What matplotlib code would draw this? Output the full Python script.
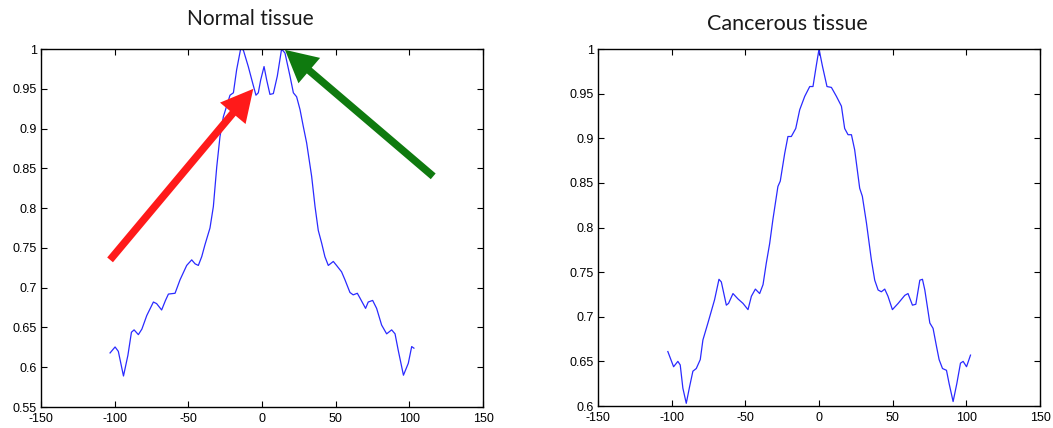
import matplotlib.pyplot as plt

# normal tissue profile
normal_x = [-103.1, -99.7, -97.5, -94.0, -91.0, -88.6, -86.8, -83.9, -81.5, -78.2, -73.7, -71.5,
            -68.1, -65.5, -63.5, -59.0, -55.6, -51.1, -47.7, -45.4, -43.2, -40.9, -38.7, -35.3,
            -33.0, -30.7, -28.5, -26.2, -21.7, -19.4, -17.2, -14.5, -12.7, -9.3, -6.3, -4.1,
            -2.5, -0.9, 1.4, 3.2, 5.4, 7.7, 10.4, 13.3, 15.6, 19.0, 21.3, 23.5, 25.8, 28.0,
            30.3, 33.7, 36.0, 38.2, 40.5, 42.7, 45.0, 48.4, 50.6, 54.0, 56.3, 59.7, 61.9, 64.7,
            66.5, 70.3, 72.1, 75.1, 77.8, 81.2, 84.6, 88.0, 90.3, 92.5, 96.0, 99.3, 101.6, 103.1]
normal_y = [0.618, 0.6255, 0.620, 0.589, 0.615, 0.644, 0.647, 0.641, 0.648, 0.665, 0.682, 0.680,
            0.672, 0.684, 0.692, 0.693, 0.710, 0.728, 0.735, 0.730, 0.728, 0.739, 0.754, 0.775,
            0.802, 0.852, 0.890, 0.915, 0.942, 0.945, 0.974, 1.000, 0.999, 0.978, 0.957, 0.942,
            0.945, 0.961, 0.978, 0.961, 0.943, 0.944, 0.966, 1.000, 0.995, 0.966, 0.945, 0.940,
            0.924, 0.903, 0.882, 0.840, 0.802, 0.772, 0.756, 0.739, 0.728, 0.733, 0.728, 0.720,
            0.710, 0.694, 0.691, 0.693, 0.687, 0.674, 0.682, 0.684, 0.674, 0.653, 0.642, 0.647,
            0.642, 0.621, 0.590, 0.605, 0.626, 0.624]

# cancerous tissue profile
cancer_x = [-102.6, -98.7, -95.8, -94.2, -92.4, -90.1, -87.8, -85.6, -83.3, -80.6, -78.8, -75.4,
            -70.9, -67.9, -66.3, -62.9, -61.4, -58.4, -55.0, -51.6, -48.2, -45.9, -43.2, -40.3,
            -38.0, -35.8, -33.5, -31.3, -27.9, -26.3, -23.3, -21.1, -18.8, -15.8, -13.1, -9.7,
            -6.3, -4.1, -1.8, 0.0, 2.3, 5.4, 8.4, 11.8, 15.2, 17.4, 19.7, 22.0, 24.2, 27.6, 29.4,
            32.2, 35.5, 37.8, 40.1, 42.3, 44.6, 46.8, 49.8, 53.7, 58.2, 60.4, 63.4, 65.7, 68.4,
            70.2, 71.8, 75.2, 77.4, 79.7, 81.5, 83.8, 86.5, 88.3, 91.0, 93.5, 96.0, 97.8, 100.1, 102.8]
cancer_y = [0.661, 0.644, 0.650, 0.646, 0.620, 0.603, 0.622, 0.639, 0.642, 0.652, 0.674, 0.693,
            0.719, 0.742, 0.739, 0.713, 0.715, 0.726, 0.720, 0.715, 0.708, 0.723, 0.731, 0.726,
            0.736, 0.760, 0.782, 0.809, 0.846, 0.852, 0.883, 0.902, 0.902, 0.911, 0.932, 0.947,
            0.958, 0.958, 0.982, 1.000, 0.981, 0.958, 0.957, 0.947, 0.936, 0.911, 0.904, 0.904,
            0.887, 0.844, 0.835, 0.805, 0.764, 0.741, 0.730, 0.728, 0.731, 0.723, 0.708, 0.715,
            0.724, 0.726, 0.713, 0.714, 0.741, 0.742, 0.730, 0.693, 0.687, 0.667, 0.652, 0.642,
            0.640, 0.625, 0.605, 0.625, 0.648, 0.650, 0.644, 0.657]

x_ticks = [-150, -100, -50, 0, 50, 100, 150]
normal_yticks = [0.55, 0.6, 0.65, 0.7, 0.75, 0.8, 0.85, 0.9, 0.95, 1.0]
normal_ylabels = ["0.55", "0.6", "0.65", "0.7", "0.75", "0.8", "0.85", "0.9", "0.95", "1"]
cancer_yticks = [0.6, 0.65, 0.7, 0.75, 0.8, 0.85, 0.9, 0.95, 1.0]
cancer_ylabels = ["0.6", "0.65", "0.7", "0.75", "0.8", "0.85", "0.9", "0.95", "1"]

# arrows on the normal tissue plot: (start, tip)
red_arrow = ((-103.1, 0.735), (-5.9, 0.950))
green_arrow = ((116.2, 0.840), (15.6, 0.999))

plt.rcParams["font.family"] = "Liberation Sans"

fig = plt.figure(figsize=(10.53, 4.28), dpi=100)
ax1 = fig.add_axes([0.0389, 0.049, 0.4198, 0.8364])
ax2 = fig.add_axes([0.5679, 0.0514, 0.4198, 0.834])


def style(ax, yticks, ylabels, ylim):
    ax.set_xlim(-150, 150)
    ax.set_ylim(*ylim)
    ax.set_xticks(x_ticks)
    ax.set_xticklabels([str(t) for t in x_ticks])
    ax.set_yticks(yticks)
    ax.set_yticklabels(ylabels)
    ax.tick_params(direction="in", top=True, right=True, length=4, width=0.8,
                   labelsize=9, pad=3, colors="black")
    ax.tick_params(axis="x", pad=4.5)
    for s in ax.spines.values():
        s.set_linewidth(1.0)


ax1.plot(normal_x, normal_y, color="#2a2aff", lw=0.9)
style(ax1, normal_yticks, normal_ylabels, (0.55, 1.0))

ax2.plot(cancer_x, cancer_y, color="#2a2aff", lw=0.9)
style(ax2, cancer_yticks, cancer_ylabels, (0.6, 1.0))

for (start, tip), col in [(red_arrow, "#ff1a1a"), (green_arrow, "#0f7a0f")]:
    ax1.annotate("", xy=tip, xytext=start,
                 arrowprops=dict(arrowstyle="simple,head_length=1.15,head_width=1.2,tail_width=0.27",
                                 mutation_scale=20, color=col, lw=0,
                                 shrinkA=0, shrinkB=0))

fig.text(0.2374, 0.955, "Normal tissue", ha="center", va="center", fontsize=15, family="Lato",
         color="#1a1a1a")
fig.text(0.7474, 0.943, "Cancerous tissue", ha="center", va="center", fontsize=15.5, family="Lato",
         color="#1a1a1a")

fig.savefig("out.png", dpi=100)
